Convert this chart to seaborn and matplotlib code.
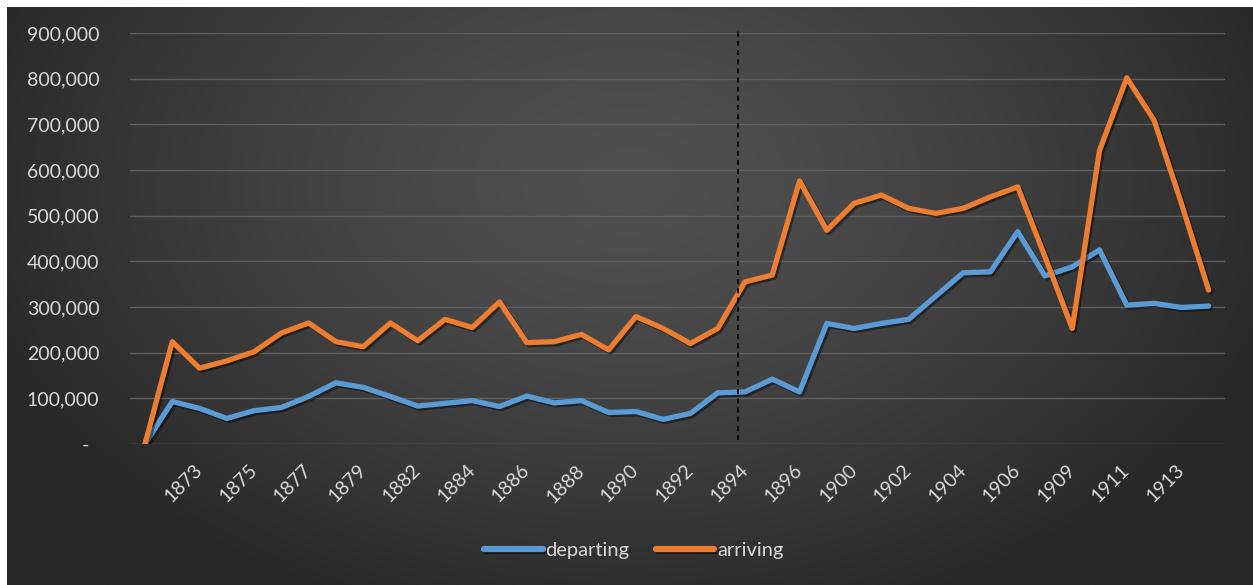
import numpy as np
import pandas as pd
import matplotlib
matplotlib.use("Agg")
import matplotlib.pyplot as plt
import matplotlib.patheffects as pe
from matplotlib.ticker import FuncFormatter
import seaborn as sns

# ---------------- data ----------------
years = [1871, 1872, 1873, 1874, 1875, 1876, 1877, 1878, 1879, 1880,
         1882, 1883, 1884, 1885, 1886, 1887, 1888, 1889, 1890, 1891,
         1892, 1893, 1894, 1895, 1896, 1898, 1900, 1901, 1902, 1903,
         1904, 1905, 1906, 1908, 1909, 1910, 1911, 1912, 1913, 1914]

departing = [0, 93000, 78000, 56000, 73000, 80000, 104000, 134000, 124000, 104000,
             83000, 89000, 95000, 82000, 105000, 90000, 95000, 69000, 71000, 54000,
             67000, 112000, 114000, 142000, 114000, 264000, 253000, 264000, 273000, 324000,
             375000, 377000, 465000, 368000, 388000, 425000, 304000, 308000, 299000, 302000]

arriving = [0, 224000, 166000, 182000, 202000, 243000, 265000, 224000, 213000, 265000,
            226000, 273000, 255000, 311000, 222000, 224000, 240000, 206000, 279000, 253000,
            220000, 253000, 355000, 370000, 576000, 468000, 527000, 545000, 516000, 505000,
            516000, 541000, 563000, 410000, 253000, 643000, 802000, 709000, 527000, 337000]

series_names = ["departing", "arriving"]
series_colors = ["#5B9BD5", "#ED7D31"]
y_ticks = [0, 100000, 200000, 300000, 400000, 500000, 600000, 700000, 800000, 900000]
marker_position = 21.75  # dashed vertical separator (between 1893 and 1894)

# ---------------- build long table ----------------
idx = np.arange(len(years))
df = pd.concat([
    pd.DataFrame({"pos": idx, "value": departing, "series": "departing"}),
    pd.DataFrame({"pos": idx, "value": arriving, "series": "arriving"}),
], ignore_index=True)

sns.set_theme(style="dark")
plt.rcParams["font.family"] = ["Lato", "DejaVu Sans"]

W, H = 1253, 585
fig = plt.figure(figsize=(W / 100, H / 100), dpi=100, facecolor="white")

# background gradient panel (white margin on top/left)
bg_ax = fig.add_axes([7 / W, 0, 1 - 7 / W, 1 - 7 / H])
bg_ax.set_axis_off()
gx = np.linspace(0, 1, 600)
gy = np.linspace(0, 1, 300)
X, Y = np.meshgrid(gx, gy)
r = np.sqrt(((X - 0.5) / 0.55) ** 2 + ((Y - 0.3) / 0.8) ** 2)
r = np.clip(r, 0, 1)
val = (80 - 40 * r ** 1.4) / 255.0
img = np.dstack([val, val, val])
bg_ax.imshow(img, aspect="auto", extent=[0, 1, 1, 0], interpolation="bilinear")
bg_ax.set_xlim(0, 1)
bg_ax.set_ylim(1, 0)

# main axes
ax = fig.add_axes([130 / W, 1 - 444 / H, (1225 - 130) / W, (444 - 33) / H])
ax.set_facecolor("none")
ax.patch.set_alpha(0)

sns.lineplot(data=df, x="pos", y="value", hue="series", hue_order=series_names,
             palette=series_colors, linewidth=3.8, ax=ax, sort=False,
             legend=True)

for line in ax.get_lines():
    line.set_path_effects([pe.SimpleLineShadow(offset=(1.5, -1.5), shadow_color="black", alpha=0.45),
                           pe.Normal()])
    line.set_solid_capstyle("round")
    line.set_solid_joinstyle("round")

ax.set_xlim(-0.55, len(years) - 1 + 0.6)
ax.set_ylim(0, 900000)
ax.set_yticks(y_ticks)
ax.yaxis.set_major_formatter(FuncFormatter(lambda v, p: "-  " if v == 0 else f"{int(v):,}"))
ax.grid(axis="y", color="#5f5f5f", linewidth=1.0)
ax.grid(axis="x", visible=False)
for s in ax.spines.values():
    s.set_visible(False)

label_positions = idx[2::2]
ax.set_xticks(label_positions)
ax.set_xticklabels([str(years[i]) for i in label_positions], rotation=45,
                   ha="right", va="center", rotation_mode="anchor")
ax.tick_params(axis="x", length=0, pad=17, labelsize=14, labelcolor="#d9d9d9")
ax.tick_params(axis="y", length=0, pad=22, labelsize=14, labelcolor="#d9d9d9")
ax.set_xlabel("")
ax.set_ylabel("")

# dashed separator
ax.plot([marker_position, marker_position], [0.01, 1.012], transform=ax.get_xaxis_transform(),
        color="black", linestyle=(0, (3, 2.5)), linewidth=1.2, clip_on=False, zorder=5)

# legend
handles, labels = ax.get_legend_handles_labels()
ax.legend_.remove()
leg = fig.legend(handles, labels, loc="center", bbox_to_anchor=(634 / W, 1 - 550 / H),
                 ncol=2, frameon=False, fontsize=14.5, handlelength=2.9, handletextpad=0.15,
                 columnspacing=1.3, labelcolor="#d9d9d9")
for h in leg.legend_handles:
    h.set_linewidth(4.5)
    h.set_solid_capstyle("round")

fig.savefig("out.png", dpi=100, facecolor="white")
